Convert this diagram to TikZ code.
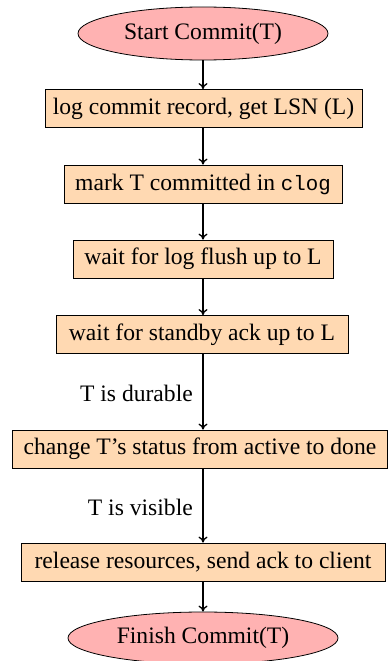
\documentclass[tikz,border=0pt]{standalone}
\usepackage{fontspec}
\setmainfont{Liberation Serif}
\setmonofont[Scale=0.88]{Liberation Mono}
\usetikzlibrary{shapes.geometric,arrows.meta}
\begin{document}
\begin{tikzpicture}[x=1pt,y=-1pt,
  every node/.style={font=\fontsize{23.6}{26}\selectfont},
  term/.style={ellipse,draw,fill=red!30,line width=0.8pt,inner sep=0pt},
  proc/.style={rectangle,draw,fill=orange!30,line width=0.8pt,minimum height=38pt,inner xsep=6pt},
  flow/.style={-{To[length=6pt,width=9pt]},line width=1.3pt},
  lbl/.style={anchor=east,inner sep=0pt}]
\useasboundingbox (0,0) rectangle (388,661);
\node[term,minimum width=250pt,minimum height=53pt] (s) at (203,33.5) {Start Commit(T)};
\node[proc,minimum width=317pt] (b1) at (203.5,108.5) {log commit record, get LSN (L)};
\node[proc,minimum width=278pt] (b2) at (203,184) {mark T committed in \texttt{clog}};
\node[proc,minimum width=260pt] (b3) at (203,259) {wait for log flush up to L};
\node[proc,minimum width=292pt] (b4) at (202,334.5) {wait for standby ack up to L};
\node[proc,minimum width=375pt] (b5) at (200,449) {change T’s status from active to done};
\node[proc,minimum width=364pt] (b6) at (203,562) {release resources, send ack to client};
\node[term,minimum width=270pt,minimum height=52pt] (f) at (203,638) {Finish Commit(T)};
\node[lbl] (l1) at (193,393) {T is durable};
\node[lbl] (l2) at (193,507) {T is visible};
\draw[flow] (s.south) -- (s.south |- b1.north);
\draw[flow] (s.south |- b1.south) -- (s.south |- b2.north);
\draw[flow] (s.south |- b2.south) -- (s.south |- b3.north);
\draw[flow] (s.south |- b3.south) -- (s.south |- b4.north);
\draw[flow] (s.south |- b4.south) -- (s.south |- b5.north);
\draw[flow] (s.south |- b5.south) -- (s.south |- b6.north);
\draw[flow] (s.south |- b6.south) -- (f.north);
\end{tikzpicture}
\end{document}
